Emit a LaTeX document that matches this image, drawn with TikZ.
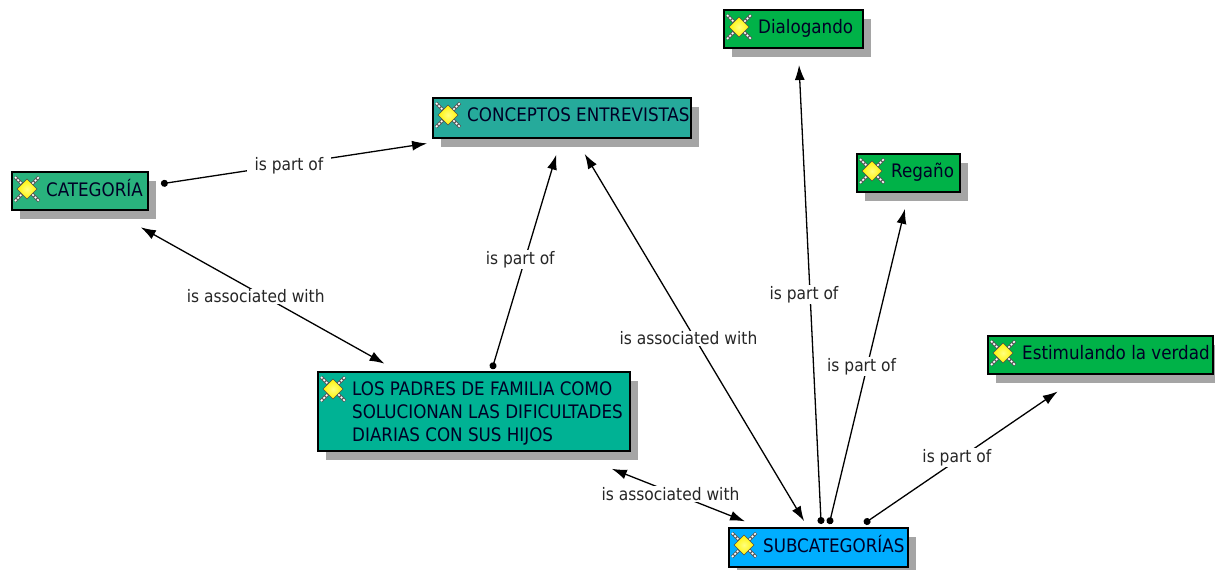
\documentclass[tikz,border=0pt]{standalone}
\usepackage{fontspec}
\setmainfont{DejaVu Sans Condensed}
\usetikzlibrary{arrows.meta}
\definecolor{catcol}{RGB}{41,178,125}
\definecolor{concol}{RGB}{38,170,155}
\definecolor{padcol}{RGB}{0,178,148}
\definecolor{subcol}{RGB}{0,174,255}
\definecolor{leafcol}{RGB}{0,178,72}
\definecolor{shadowcol}{RGB}{165,165,165}
\tikzset{
  hull/.style={inner sep=0pt,outer sep=0pt,anchor=north west},
  boxlabel/.style={inner sep=0pt,anchor=north west,align=left,font=\fontsize{18.6}{23}\selectfont,text=black!85!blue},
  linklabel/.style={fill=white,inner xsep=8pt,inner ysep=1pt,font=\fontsize{17.2}{19}\selectfont,text=black!85},
  partof/.style={{Circle[length=7pt]}-{Latex[length=15pt,width=10pt]},line width=1.3pt,shorten <=8pt,shorten >=8pt},
  assoc/.style={{Latex[length=15pt,width=10pt]}-{Latex[length=15pt,width=10pt]},line width=1.3pt,shorten <=8pt,shorten >=8pt},
  spark/.pic={
    \draw[black!65,line width=3.2pt] (-12,-12)--(12,12) (-12,12)--(12,-12);
    \draw[white,line width=1.6pt,dash pattern=on 2pt off 1.5pt] (-12,-12)--(12,12) (-12,12)--(12,-12);
    \draw[black!70,line width=.5pt,inner color=white!50!yellow,outer color=yellow!90!orange] (-10,0)--(0,-10)--(10,0)--(0,10)--cycle;
  }
}
% name, left, top, width, height, colour, text
\newcommand{\conceptbox}[7]{
  \node[hull,minimum width=#4pt+8pt,minimum height=#5pt+9pt] (#1) at (#2,#3) {};
  \node[hull,anchor=south east,fill=shadowcol,minimum width=#4pt,minimum height=#5pt] (#1 shadow) at (#1.south east) {};
  \node[hull,draw=black,line width=1.3pt,fill=#6,minimum width=#4pt,minimum height=#5pt] (#1 box) at (#1.north west) {};
  \pic at ([shift={(15,17)}]#1 box.north west) {spark};
  \node[boxlabel] (#1 text) at ([shift={(34,7)}]#1 box.north west) {\strut #7};
}
\begin{document}
\begin{tikzpicture}[x=1pt,y=-1pt]
  \useasboundingbox (0,0) rectangle (1215,570);
  \conceptbox{cat}{12}{172}{136}{38}{catcol}{CATEGORÍA}
  \conceptbox{con}{433}{98}{258}{40}{concol}{CONCEPTOS ENTREVISTAS}
  \conceptbox{pad}{318}{372}{312}{79}{padcol}{LOS PADRES DE FAMILIA COMO\\SOLUCIONAN LAS DIFICULTADES\\DIARIAS CON SUS HIJOS}
  \conceptbox{sub}{729}{528}{179}{39}{subcol}{SUBCATEGORÍAS}
  \conceptbox{dia}{724}{10}{139}{38}{leafcol}{Dialogando}
  \conceptbox{reg}{857}{154}{103}{38}{leafcol}{Regaño}
  \conceptbox{est}{988}{336}{225}{38}{leafcol}{Estimulando la verdad}

  \draw[partof,shorten <=5pt,shorten >=6pt] (cat) -- node[linklabel,pos=.48,yshift=-1pt] (l1) {is part of} (con);
  \draw[partof,shorten <=3pt] (pad) -- node[linklabel,pos=.49,xshift=-4pt,yshift=2pt] (l2) {is part of} (con);
  \draw[assoc,shorten <=17pt,shorten >=17pt] (cat) -- node[linklabel,pos=.5,xshift=-7pt,yshift=-1pt] (l3) {is associated with} (pad);
  \draw[assoc] (con) -- node[linklabel,pos=.5,xshift=-6pt,yshift=-1pt] (l4) {is associated with} (sub);
  \draw[assoc,shorten <=24pt,shorten >=18pt] (pad) -- node[linklabel,pos=.47,yshift=-2pt] (l5) {is associated with} (sub);
  \draw[partof,shorten <=4pt] (sub) -- node[linklabel,pos=.5,xshift=-6pt,yshift=-2pt] (l6) {is part of} (dia);
  \draw[partof,shorten <=4pt] (sub) -- node[linklabel,pos=.5,xshift=-6pt,yshift=-2pt] (l7) {is part of} (reg);
  \draw[partof,shorten >=15pt] (sub) -- node[linklabel,pos=.5,xshift=-7pt,yshift=-2pt] (l8) {is part of} (est);
\end{tikzpicture}
\end{document}
